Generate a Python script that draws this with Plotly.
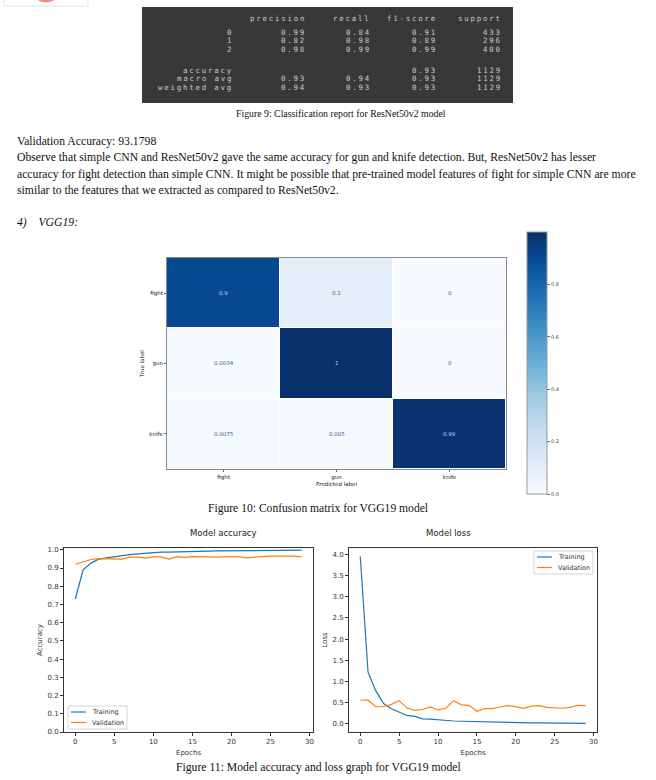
import plotly.graph_objects as go

W, H = 656, 780


def px(x):
    return x / W


def py(y):
    return 1 - y / H


# ---------------- data ----------------
report_cols = ["precision", "recall", "f1-score", "support"]
report_labels = ["0", "1", "2", "accuracy", "macro avg", "weighted avg"]
report_precision = [0.99, 0.82, 0.98, None, 0.93, 0.94]
report_recall = [0.84, 0.98, 0.99, None, 0.94, 0.93]
report_f1 = [0.91, 0.89, 0.99, 0.93, 0.93, 0.93]
report_support = [433, 296, 400, 1129, 1129, 1129]

classes = ["fight", "gun", "knife"]
cm = [
    [0.9, 0.1, 0.0],
    [0.0034, 0.9966, 0.0],
    [0.0075, 0.005, 0.9875],
]
cm_text = [
    ["0.9", "0.1", "0"],
    ["0.0034", "1", "0"],
    ["0.0075", "0.005", "0.99"],
]

epochs = list(range(30))
train_acc = [0.73, 0.89, 0.927, 0.949, 0.956, 0.963, 0.971, 0.974, 0.978, 0.982,
             0.985, 0.987, 0.987, 0.989, 0.991, 0.992, 0.993, 0.993, 0.994, 0.994,
             0.995, 0.995, 0.996, 0.996, 0.996, 0.997, 0.997, 0.997, 0.998, 0.998]
val_acc = [0.921, 0.936, 0.947, 0.952, 0.952, 0.949, 0.949, 0.96, 0.96, 0.954,
           0.961, 0.961, 0.949, 0.963, 0.958, 0.963, 0.961, 0.96, 0.96, 0.961,
           0.963, 0.962, 0.956, 0.961, 0.963, 0.965, 0.965, 0.967, 0.965, 0.961]
train_loss = [3.95, 1.22, 0.78, 0.48, 0.36, 0.28, 0.2, 0.18, 0.12, 0.115,
              0.1, 0.07, 0.07, 0.063, 0.058, 0.047, 0.042, 0.04, 0.037, 0.035,
              0.033, 0.03, 0.027, 0.025, 0.024, 0.022, 0.024, 0.02, 0.016, 0.012]
val_loss = [0.565, 0.56, 0.405, 0.405, 0.46, 0.55, 0.38, 0.32, 0.34, 0.40,
            0.33, 0.37, 0.55, 0.45, 0.44, 0.30, 0.36, 0.36, 0.40, 0.43,
            0.41, 0.37, 0.42, 0.43, 0.39, 0.38, 0.37, 0.39, 0.44, 0.43]
series_names = ["Training", "Validation"]

paragraph = [
    "Validation Accuracy: 93.1798",
    "Observe that simple CNN and ResNet50v2 gave the same accuracy for gun and knife detection. But, ResNet50v2 has lesser",
    "accuracy for fight detection than simple CNN. It might be possible that pre-trained model features of fight for simple CNN are more",
    "similar to the features that we extracted as compared to ResNet50v2.",
]
section = "4)\u00a0\u00a0\u00a0\u00a0VGG19:"
captions = [
    "Figure 9: Classification report for ResNet50v2 model",
    "Figure 10: Confusion matrix for VGG19 model",
    "Figure 11: Model accuracy and loss graph for VGG19 model",
]

# ---------------- styles ----------------
BLUES = ["rgb(247,251,255)", "rgb(222,235,247)", "rgb(198,219,239)", "rgb(158,202,225)",
         "rgb(107,174,214)", "rgb(66,146,198)", "rgb(33,113,181)", "rgb(8,81,156)",
         "rgb(8,48,107)"]
blues_scale = [[i / (len(BLUES) - 1), c] for i, c in enumerate(BLUES)]
C_BLUE = "#1f77b4"
C_ORANGE = "#ff7f0e"
SERIF = "Liberation Serif"
SANS = "DejaVu Sans"
MONO = "DejaVu Sans Mono"
TXT = "#333333"

fig = go.Figure()

# confusion matrix
fig.add_trace(go.Heatmap(
    z=cm, x=classes, y=classes, colorscale=blues_scale, zmin=0, zmax=1,
    xgap=1, ygap=1, hoverinfo="skip",
    xaxis="x", yaxis="y",
    colorbar=dict(
        x=px(527), xanchor="left", y=py(494), yanchor="bottom",
        len=262 / H, lenmode="fraction", thickness=20, thicknessmode="pixels",
        outlinewidth=1, outlinecolor="#999999", xpad=0, ypad=0,
        ticks="outside", ticklen=3, tickcolor="#666666",
        tickvals=[0, 0.2, 0.4, 0.6, 0.8], tickformat=".1f",
        tickfont=dict(family=SANS, size=5, color="#444444"),
    ),
))

# accuracy and loss curves
colors = [C_BLUE, C_ORANGE]
for k, ys in enumerate([train_acc, val_acc]):
    fig.add_trace(go.Scatter(x=epochs, y=ys, mode="lines", name=series_names[k],
                             line=dict(color=colors[k], width=1.2), xaxis="x2", yaxis="y2",
                             showlegend=False, hoverinfo="skip"))
for k, ys in enumerate([train_loss, val_loss]):
    fig.add_trace(go.Scatter(x=epochs, y=ys, mode="lines", name=series_names[k],
                             line=dict(color=colors[k], width=1.2), xaxis="x3", yaxis="y3",
                             showlegend=False, hoverinfo="skip"))

annotations = []
shapes = []

# heatmap cell labels
for i, row in enumerate(cm):
    for j, v in enumerate(row):
        annotations.append(dict(
            x=classes[j], y=classes[i], xref="x", yref="y", text=cm_text[i][j], showarrow=False,
            font=dict(family=SANS, size=5.5, color="#c9d3e6" if v > 0.5 else "#3d5a8c"),
        ))

# classification report text
rep_font = dict(family=MONO, size=7.4, color="#cccccc")
SPACING = 1.8


def spaced(t):
    return f'<span style="letter-spacing:{SPACING}px">{t}</span>'


col_right = [308, 373, 439, 504]
label_right = 235
header_y = 18
row_y = [32.5, 40.8, 49.1, 70.4, 78.8, 87.2]
for k, c in enumerate(report_cols):
    annotations.append(dict(x=px(col_right[k]), y=py(header_y), xref="paper", yref="paper",
                            text=spaced(c), showarrow=False, xanchor="right", yanchor="middle",
                            font=rep_font))
cols_vals = [report_precision, report_recall, report_f1, report_support]
for r, lab in enumerate(report_labels):
    annotations.append(dict(x=px(label_right), y=py(row_y[r]), xref="paper", yref="paper",
                            text=spaced(lab), showarrow=False, xanchor="right", yanchor="middle",
                            font=rep_font))
    for k, vals in enumerate(cols_vals):
        v = vals[r]
        if v is None:
            continue
        txt = str(v) if k == 3 else f"{v:.2f}"
        annotations.append(dict(x=px(col_right[k]), y=py(row_y[r]), xref="paper", yref="paper",
                                text=spaced(txt), showarrow=False, xanchor="right",
                                yanchor="middle", font=rep_font))

# paragraph text
PARA_SIZE = 11.7
para_y = [141, 157.5, 174, 190]
for t, yy in zip(paragraph, para_y):
    annotations.append(dict(x=px(15), y=py(yy), xref="paper", yref="paper", text=t,
                            showarrow=False, xanchor="left", yanchor="middle",
                            font=dict(family=SERIF, size=PARA_SIZE, color="#111111")))
annotations.append(dict(x=px(15), y=py(222), xref="paper", yref="paper",
                        text=f"<i>{section}</i>", showarrow=False, xanchor="left",
                        yanchor="middle", font=dict(family=SERIF, size=PARA_SIZE, color="#111111")))

# captions
cap_pos = [(341, 113, 9.8), (318, 508, 11.6), (318, 767, 11.7)]
for t, (cx, cy, fs) in zip(captions, cap_pos):
    annotations.append(dict(x=px(cx), y=py(cy), xref="paper", yref="paper", text=t,
                            showarrow=False, xanchor="center", yanchor="middle",
                            font=dict(family=SERIF, size=fs, color="#111111")))

# line chart titles
annotations += [
    dict(x=px(188), y=py(540), xref="paper", yref="paper", text="Model accuracy",
         showarrow=False, font=dict(family=SANS, size=8.5, color="#222222")),
    dict(x=px(473), y=py(540), xref="paper", yref="paper", text="Model loss",
         showarrow=False, font=dict(family=SANS, size=8.5, color="#222222")),
]

# legends (matplotlib style boxes)
leg_font = dict(family=SANS, size=6.5, color=TXT)
for (bx0, by0, bx1, by1) in [(68, 706, 127, 729), (534, 551, 593, 574)]:
    shapes.append(dict(type="rect", xref="paper", yref="paper", x0=px(bx0), x1=px(bx1),
                       y0=py(by1), y1=py(by0), fillcolor="rgba(255,255,255,0.85)",
                       line=dict(width=0.8, color="#cccccc")))
    for k, name in enumerate(series_names):
        ly = by0 + 6 + k * 10.5
        shapes.append(dict(type="line", xref="paper", yref="paper", x0=px(bx0 + 3), x1=px(bx0 + 18),
                           y0=py(ly), y1=py(ly), line=dict(color=colors[k], width=1.2)))
        annotations.append(dict(x=px(bx0 + 22), y=py(ly), xref="paper", yref="paper", text=name,
                                showarrow=False, xanchor="left", yanchor="middle", font=leg_font))

shapes += [
    # dark classification report panel
    dict(type="rect", xref="paper", yref="paper", x0=px(142), x1=px(513), y0=py(103), y1=py(7),
         fillcolor="#383838", line=dict(width=0), layer="below"),
    # partial image at top-left
    dict(type="rect", xref="paper", yref="paper", x0=px(4), x1=px(88), y0=py(6), y1=py(-4),
         fillcolor="#ffffff", line=dict(width=1, color="#e2e2e2"), layer="below"),
    dict(type="circle", xref="paper", yref="paper", x0=px(36), x1=px(56), y0=py(2.5), y1=py(-10),
         fillcolor="#f28b82", line=dict(width=0), layer="below"),
]

tick_font = dict(family=SANS, size=7, color=TXT)
axt_font = dict(family=SANS, size=7, color=TXT)
line_ax = dict(showline=True, mirror=True, linecolor="#333333", linewidth=1,
               showgrid=False, zeroline=False, ticks="outside", ticklen=3,
               tickcolor="#333333", tickfont=tick_font, automargin=False)
hm_font = dict(family=SANS, size=5.5, color="#222222")
hm_ax = dict(showline=True, mirror=True, linecolor="#8a8a8a", linewidth=1,
             showgrid=False, zeroline=False, ticks="outside", ticklen=2,
             tickcolor="#666666", tickfont=hm_font, automargin=False)

fig.update_layout(
    width=W, height=H, margin=dict(l=0, r=0, t=0, b=0),
    paper_bgcolor="white", plot_bgcolor="white", showlegend=False,
    xaxis=dict(domain=[px(167), px(506)], anchor="y",
               title=dict(text="Predicted label", font=hm_font, standoff=1), **hm_ax),
    yaxis=dict(domain=[py(469), py(258)], anchor="x", autorange="reversed",
               title=dict(text="True label", font=hm_font, standoff=4), **hm_ax),
    xaxis2=dict(domain=[px(64), px(313)], anchor="y2", range=[-1.45, 30.45],
                tickvals=[0, 5, 10, 15, 20, 25, 30],
                title=dict(text="Epochs", font=axt_font, standoff=4), **line_ax),
    yaxis2=dict(domain=[py(732), py(548)], anchor="x2", range=[0, 1.01],
                tickvals=[i / 10 for i in range(11)], tickformat=".1f",
                title=dict(text="Accuracy", font=axt_font, standoff=4), **line_ax),
    xaxis3=dict(domain=[px(349), px(597)], anchor="y3", range=[-1.45, 30.45],
                tickvals=[0, 5, 10, 15, 20, 25, 30],
                title=dict(text="Epochs", font=axt_font, standoff=4), **line_ax),
    yaxis3=dict(domain=[py(732), py(548)], anchor="x3", range=[-0.19, 4.15],
                tickvals=[i / 2 for i in range(9)], tickformat=".1f",
                title=dict(text="Loss", font=axt_font, standoff=4), **line_ax),
    annotations=annotations,
    shapes=shapes,
)

fig.write_html("out.html", config={"displayModeBar": False},
               post_script="document.body.style.margin='0';")
